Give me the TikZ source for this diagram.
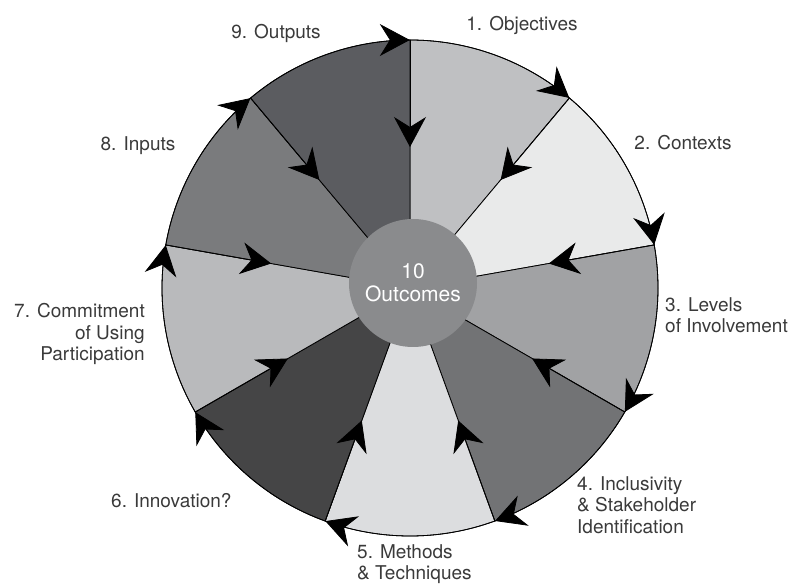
\documentclass[tikz,border=0pt]{standalone}
\usepackage{fontspec}
\setmainfont{TeX Gyre Heros}
\usepackage{xcolor}
\usepackage{tikz}
\usetikzlibrary{arrows.meta,decorations.markings}
\definecolor{ink}{HTML}{3A3A3A}
\definecolor{hubgray}{HTML}{8A8B8D}
\definecolor{secA}{HTML}{BFC0C2}
\definecolor{secB}{HTML}{E9EAEA}
\definecolor{secC}{HTML}{A1A2A4}
\definecolor{secD}{HTML}{727375}
\definecolor{secE}{HTML}{DCDDDF}
\definecolor{secF}{HTML}{454546}
\definecolor{secG}{HTML}{B9BABC}
\definecolor{secH}{HTML}{7A7B7D}
\definecolor{secI}{HTML}{5B5C60}
\tikzset{
  barb/.tip={Stealth[length=30bp, width=32bp, inset=10bp]},
  sector/.style={draw=black, line width=0.8pt},
  flow/.style={draw=black, line width=0.8pt, -barb},
  rimflow/.style={draw=black, line width=0.8pt, postaction={decorate},
    decoration={markings, mark=at position 0.999 with {\arrow{barb}}}},
  hub/.style={circle, fill=hubgray, minimum size=128bp, inner sep=0pt, text=white, align=center, font=\fontsize{21bp}{23bp}\selectfont},
  lab/.style={text=ink, inner sep=0pt, font=\fontsize{19bp}{21.5bp}\selectfont}
}

\begin{document}
\begin{tikzpicture}[x=1bp, y=1bp]
  \useasboundingbox (-410,-298) rectangle (382,288);

  \coordinate (O) at (0,0);
  % sector boundaries on the rim
  \coordinate (b1) at (90:248bp);
  \coordinate (b2) at (50:248bp);
  \coordinate (b3) at (10:248bp);
  \coordinate (b4) at (-30:248bp);
  \coordinate (b5) at (-70:248bp);
  \coordinate (b6) at (-110:248bp);
  \coordinate (b7) at (-150:248bp);
  \coordinate (b8) at (170:248bp);
  \coordinate (b9) at (130:248bp);
  % arrow tips halfway in
  \coordinate (m1) at (90:141bp);
  \coordinate (m2) at (50:141bp);
  \coordinate (m3) at (10:141bp);
  \coordinate (m4) at (-30:141bp);
  \coordinate (m5) at (-70:141bp);
  \coordinate (m6) at (-110:141bp);
  \coordinate (m7) at (-150:141bp);
  \coordinate (m8) at (170:141bp);
  \coordinate (m9) at (130:141bp);

  \filldraw[sector, fill=secA] (O) -- (b1) arc[start angle=90, end angle=50, radius=248bp] -- cycle;
  \filldraw[sector, fill=secB] (O) -- (b2) arc[start angle=50, end angle=10, radius=248bp] -- cycle;
  \filldraw[sector, fill=secC] (O) -- (b3) arc[start angle=10, end angle=-30, radius=248bp] -- cycle;
  \filldraw[sector, fill=secD] (O) -- (b4) arc[start angle=-30, end angle=-70, radius=248bp] -- cycle;
  \filldraw[sector, fill=secE] (O) -- (b5) arc[start angle=-70, end angle=-110, radius=248bp] -- cycle;
  \filldraw[sector, fill=secF] (O) -- (b6) arc[start angle=-110, end angle=-150, radius=248bp] -- cycle;
  \filldraw[sector, fill=secG] (O) -- (b7) arc[start angle=-150, end angle=-190, radius=248bp] -- cycle;
  \filldraw[sector, fill=secH] (O) -- (b8) arc[start angle=170, end angle=130, radius=248bp] -- cycle;
  \filldraw[sector, fill=secI] (O) -- (b9) arc[start angle=130, end angle=90, radius=248bp] -- cycle;

  % clockwise round the rim
  \draw[rimflow] (b9) arc[start angle=130, end angle=90, radius=248bp];
  \draw[rimflow] (b1) arc[start angle=90, end angle=50, radius=248bp];
  \draw[rimflow] (b2) arc[start angle=50, end angle=10, radius=248bp];
  \draw[rimflow] (b3) arc[start angle=10, end angle=-30, radius=248bp];
  \draw[rimflow] (b4) arc[start angle=-30, end angle=-70, radius=248bp];
  \draw[rimflow] (b5) arc[start angle=-70, end angle=-110, radius=248bp];
  \draw[rimflow] (b6) arc[start angle=-110, end angle=-150, radius=248bp];
  \draw[rimflow] (b7) arc[start angle=-150, end angle=-190, radius=248bp];
  \draw[rimflow] (b8) arc[start angle=170, end angle=130, radius=248bp];

  % in towards the outcomes
  \draw[flow] (b1) -- (m1);
  \draw[flow] (b2) -- (m2);
  \draw[flow] (b3) -- (m3);
  \draw[flow] (b4) -- (m4);
  \draw[flow] (b5) -- (m5);
  \draw[flow] (b6) -- (m6);
  \draw[flow] (b7) -- (m7);
  \draw[flow] (b8) -- (m8);
  \draw[flow] (b9) -- (m9);

  \node[hub] (hub) at (3,5) {10\\Outcomes};

  \node[lab] (l1) at (112,263) {1. Objectives};
  \node[lab] (l2) at (273,145) {2. Contexts};
  \node[lab, anchor=west, align=left] (l3) at (255,-27) {3. Levels\\of Involvement};
  \node[lab, anchor=west, align=left] (l4) at (167,-217) {4. Inclusivity\\\& Stakeholder\\Identification};
  \node[lab, anchor=west, align=left] (l5) at (-53,-276) {5. Methods\\\& Techniques};
  \node[lab, anchor=west] (l6) at (-299,-213) {6. Innovation?};
  \node[lab, anchor=east, align=right] (l7) at (-265,-46) {7. Commitment\\of Using\\Participation};
  \node[lab] (l8) at (-272,142) {8. Inputs};
  \node[lab] (l9) at (-134,255) {9. Outputs};
\end{tikzpicture}
\end{document}
